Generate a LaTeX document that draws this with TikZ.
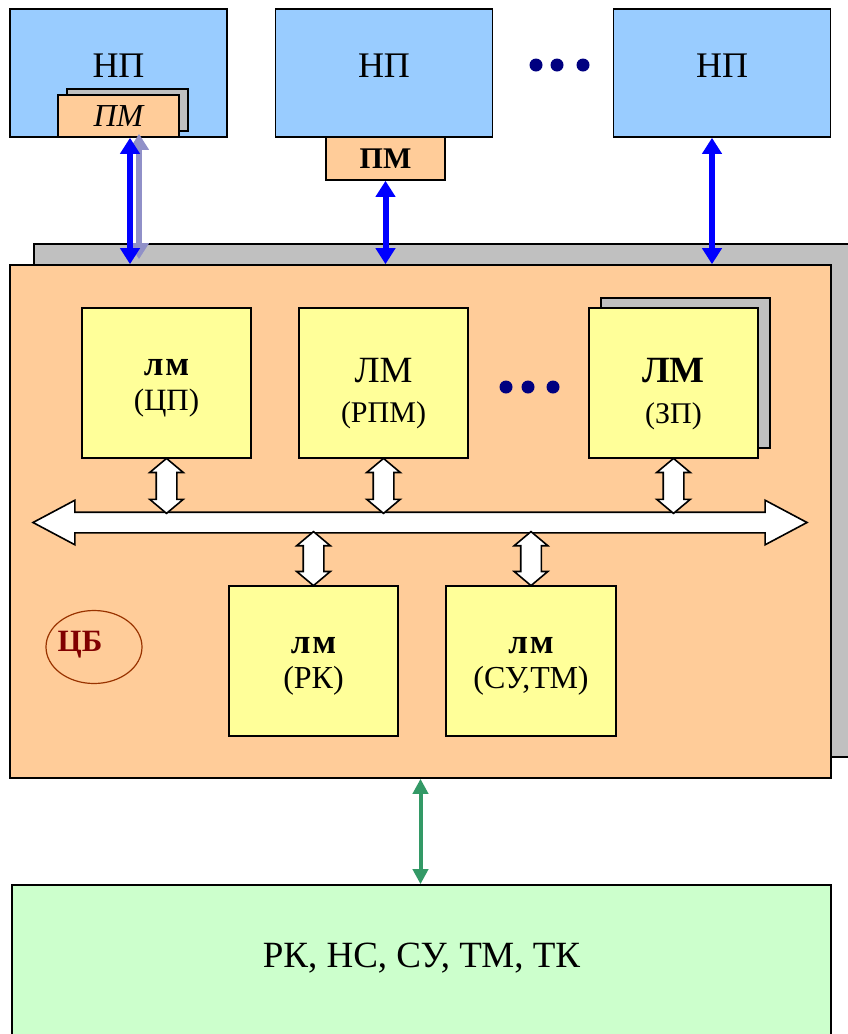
\documentclass[tikz,border=0pt]{standalone}
\usepackage{fontspec}
\setmainfont{Liberation Serif}
\usetikzlibrary{arrows.meta,shapes.arrows,shapes.geometric,shadows,calc}

\definecolor{npblue}{HTML}{99CCFF}
\definecolor{pmorange}{HTML}{FFCC99}
\definecolor{lmyellow}{HTML}{FFFF99}
\definecolor{fieldgreen}{HTML}{CCFFCC}
\definecolor{shgray}{HTML}{C0C0C0}
\definecolor{linkblue}{HTML}{0000FF}
\definecolor{linkgreen}{HTML}{339966}
\definecolor{ghostblue}{HTML}{9090C8}
\definecolor{dotnavy}{HTML}{000080}
\definecolor{cbred}{HTML}{800000}
\definecolor{cbline}{HTML}{993300}

\newcommand{\fsz}[1]{\fontsize{#1}{#1}\selectfont}

\begin{document}
\begin{tikzpicture}[x=1pt,y=-1pt,
    box/.style={draw=black, line width=1.6pt, inner sep=0pt},
    npbox/.style={box, fill=npblue, minimum width=217pt, minimum height=128pt},
    pmbox/.style={box, fill=pmorange, minimum width=121pt, minimum height=42pt},
    lmbox/.style={box, fill=lmyellow, minimum width=169pt, minimum height=150pt},
    grayshadow/.style={copy shadow={shadow xshift=#1, fill=shgray, draw=black, line width=1.6pt}},
    lbl/.style={inner sep=0pt, anchor=base},
    bus/.style={double arrow, draw=black, line width=1.6pt, fill=white,
        minimum height=774pt, minimum width=0pt, inner xsep=0pt, inner ysep=9.5pt,
        double arrow head extend=12pt, double arrow tip angle=56},
    link/.style={double arrow, draw=black, line width=1.6pt, fill=white, rotate=90,
        minimum height=#1, minimum width=0pt, inner xsep=0pt, inner ysep=9.5pt,
        double arrow head extend=6.5pt, double arrow tip angle=100},
    link/.default=55pt,
    wire/.style={line width=6pt, {Triangle[width=19pt,length=16pt]}-{Triangle[width=19pt,length=16pt]}},
    ]
    \useasboundingbox (0,0) rectangle (847,1034);

    \node[npbox] (np1) at (118.5,73) {};
    \node[npbox] (np2) at (384,73) {};
    \node[npbox] (np3) at (722,73) {};
    \foreach \i in {1,2,3}
        \node[lbl, font=\fsz{36}] (nptext\i) at ([yshift=-4pt]np\i.center) {НП};
    \foreach \x in {536,557,583}
        \fill[dotnavy] (\x,65) circle (6.5pt);

    \node[pmbox, font=\fsz{32}\itshape,
        copy shadow={shadow xshift=9pt, shadow yshift=6pt, fill=shgray, draw=black, line width=1.6pt}]
        (pm1) at (118.5,116) {ПМ};
    \node[pmbox, minimum width=119pt, minimum height=43pt, font=\fsz{30}\bfseries]
        (pm2) at (385.5,158.5) {ПМ};

    \node[box, fill=pmorange, minimum width=821pt, minimum height=513pt,
        copy shadow={shadow xshift=24pt, shadow yshift=21pt, fill=shgray, draw=black, line width=1.6pt}]
        (cb) at (420.5,521.5) {};

    \coordinate (c1) at (130,0);
    \coordinate (c1g) at (139,0);
    \coordinate (c3) at (712,0);
    \draw[wire, ghostblue] ($(pm1.south -| c1g)+(0,-4)$) -- ($(cb.north -| c1g)+(0,-5)$);
    \draw[wire, linkblue] (pm1.south -| c1) -- (cb.north -| c1);
    \draw[wire, linkblue] (pm2.south) -- (pm2.south |- cb.north);
    \draw[wire, linkblue] (np3.south -| c3) -- (cb.north -| c3);

    \node[lmbox] (lm1) at (166.5,383) {};
    \node[lmbox] (lm2) at (383.5,383) {};
    \node[lmbox, copy shadow={shadow xshift=12pt, shadow yshift=10pt, fill=shgray, draw=black, line width=1.6pt}]
        (lm3) at (673.5,383) {};
    \node[lmbox] (lm4) at (313.5,661) {};
    \node[lmbox, minimum width=170pt] (lm5) at (531,661) {};

    \node[lbl, font=\fsz{35}\bfseries] (lm1a) at ([yshift=8pt]lm1.center) {л\kern2pt м};
    \node[lbl, font=\fsz{31}] (lm1b) at ([yshift=-27pt]lm1.center) {(ЦП)};
    \node[lbl, font=\fsz{37}] (lm2a) at ([yshift=1pt]lm2.center) {ЛМ};
    \node[lbl, font=\fsz{30}] (lm2b) at ([yshift=-39pt]lm2.center) {(РПМ)};
    \node[lbl, font=\fsz{37}\bfseries] (lm3a) at ([yshift=1pt]lm3.center) {ЛМ};
    \node[lbl, font=\fsz{30}] (lm3b) at ([yshift=-40pt]lm3.center) {(ЗП)};
    \node[lbl, font=\fsz{35}\bfseries] (lm4a) at ([yshift=8pt]lm4.center) {л\kern2pt м};
    \node[lbl, font=\fsz{32}] (lm4b) at ([yshift=-27pt]lm4.center) {(РК)};
    \node[lbl, font=\fsz{35}\bfseries] (lm5a) at ([yshift=8pt]lm5.center) {л\kern2pt м};
    \node[lbl, font=\fsz{32}] (lm5b) at ([yshift=-27pt]lm5.center) {(СУ,ТМ)};
    \foreach \x in {506,528,553}
        \fill[dotnavy] (\x,387) circle (6.5pt);

    \node[bus] (bus) at (420,522.5) {};
    \coordinate (bustop) at ([yshift=9.5pt]bus.center);
    \coordinate (busbot) at ([yshift=-9.5pt]bus.center);
    \node[link] (link1) at ($(lm1.south)!0.5!(lm1.south |- bustop)$) {};
    \node[link] (link2) at ($(lm2.south)!0.5!(lm2.south |- bustop)$) {};
    \node[link] (link3) at ($(lm3.south)!0.5!(lm3.south |- bustop)$) {};
    \node[link=54pt] (link4) at ($(lm4.north)!0.5!(lm4.north |- busbot)$) {};
    \node[link=54pt] (link5) at ($(lm5.north)!0.5!(lm5.north |- busbot)$) {};

    \node[ellipse, draw=cbline, line width=1.2pt, minimum width=96pt, minimum height=73pt, inner sep=0pt]
        (cbmark) at (94,647) {};
    \node[lbl, font=\fsz{31}\bfseries, text=cbred] (cbtext) at ([xshift=-14pt,yshift=-4pt]cbmark.center) {ЦБ};

    \node[box, fill=fieldgreen, minimum width=819pt, minimum height=160pt] (field) at (421.5,965) {};
    \node[lbl, font=\fsz{37}] (fieldtext) at ([yshift=-2pt]field.center) {РК, НС, СУ, ТМ, ТК};
    \draw[line width=4pt, linkgreen, {Triangle[width=15pt,length=15pt]}-{Triangle[width=15pt,length=15pt]}]
        (cb.south) -- (cb.south |- field.north);
\end{tikzpicture}
\end{document}
